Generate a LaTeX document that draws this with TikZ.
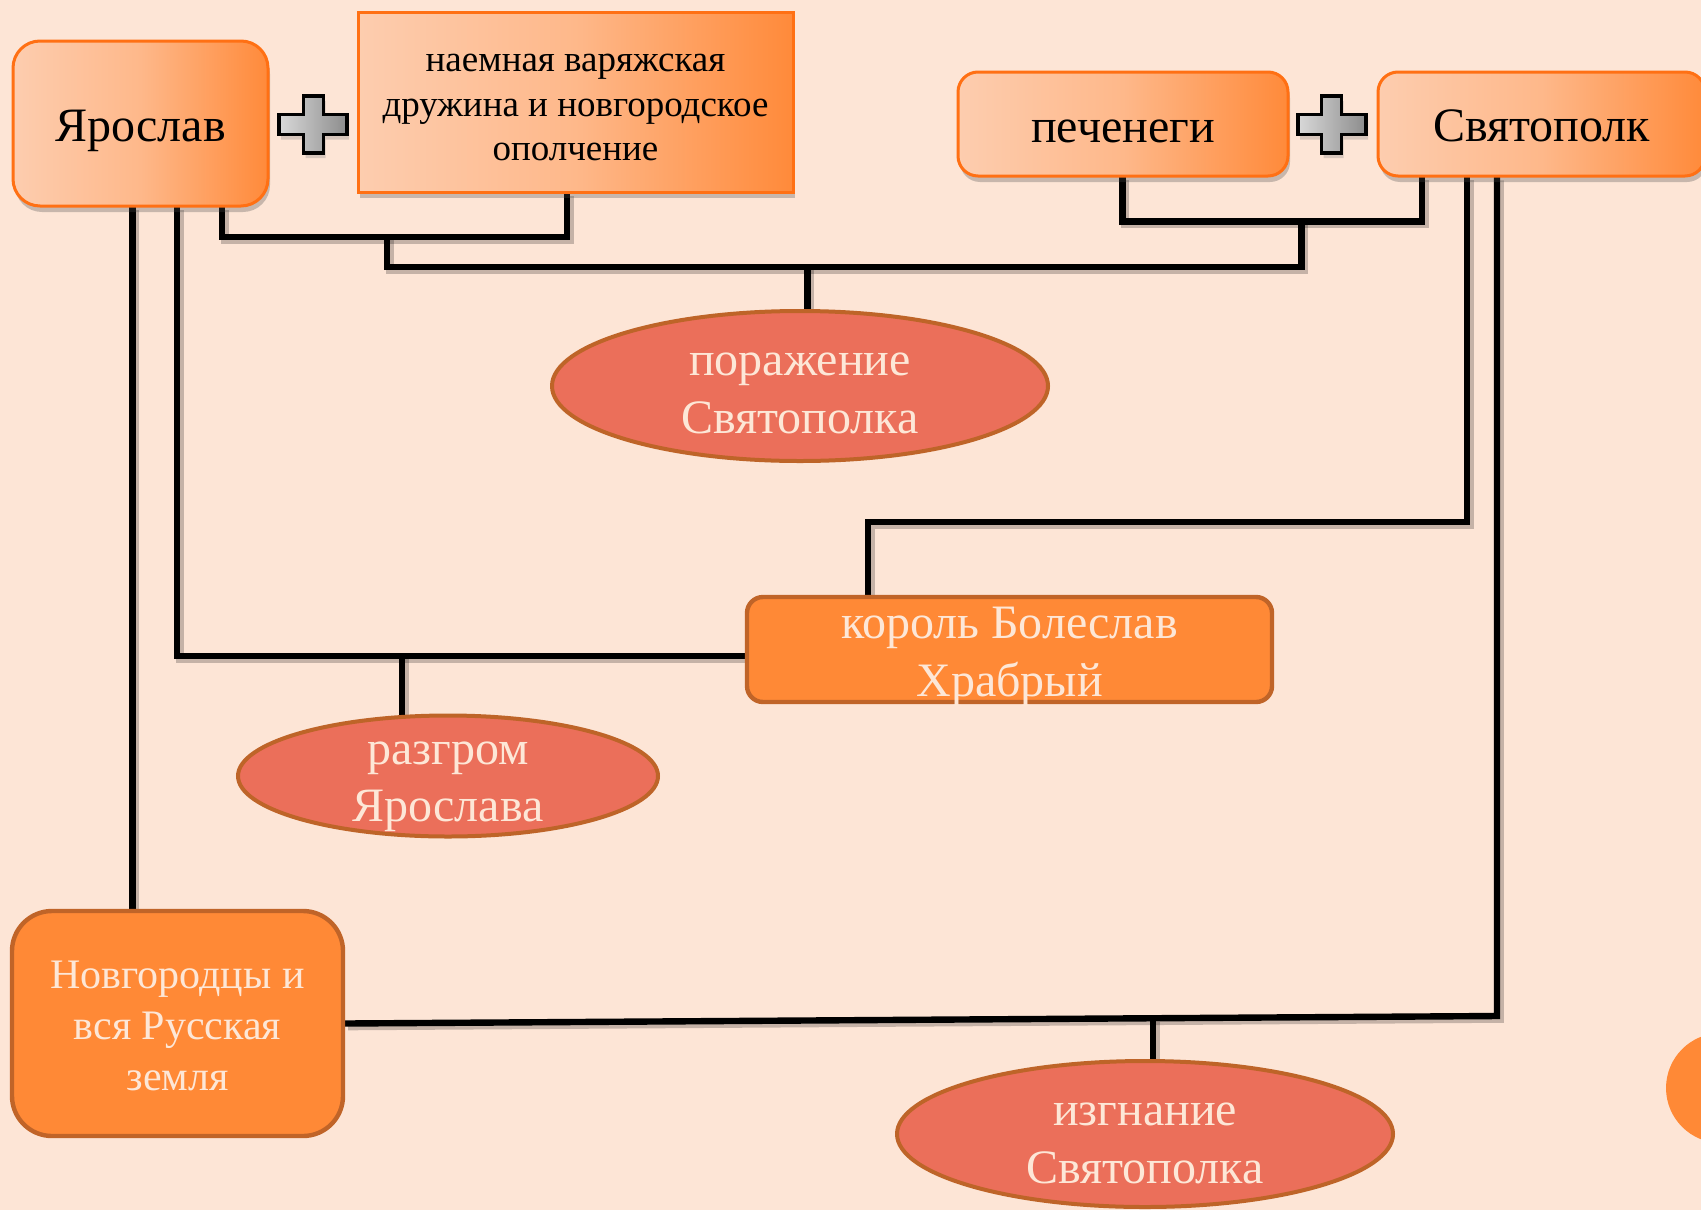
\documentclass[tikz,border=0pt]{standalone}
\usepackage{fontspec}
\setmainfont{Liberation Serif}
\usetikzlibrary{shapes.geometric,shadows}
\definecolor{bg}{RGB}{253,229,214}
\definecolor{gl}{RGB}{253,205,175}
\definecolor{gm}{RGB}{254,184,138}
\definecolor{gr}{RGB}{255,138,58}
\definecolor{gborder}{RGB}{255,112,20}
\definecolor{solidor}{RGB}{255,137,54}
\definecolor{sborder}{RGB}{192,100,40}
\definecolor{ellfill}{RGB}{235,111,90}
\definecolor{eborder}{RGB}{190,100,40}
\definecolor{ltext}{RGB}{253,231,215}
\pgfdeclarelayer{back}
\pgfdeclarelayer{wires}
\pgfsetlayers{back,wires,main}
\begin{document}
\begin{tikzpicture}[x=0.5pt,y=-0.5pt,
  gbox/.style={draw=gborder, line width=1.5pt, left color=gl, right color=gr, middle color=gm, inner sep=0pt,
    drop shadow={shadow xshift=1pt, shadow yshift=-3pt, opacity=0.3, fill=black!70}},
  sbox/.style={draw=sborder, line width=2.2pt, fill=solidor, inner sep=0pt},
  ell/.style={ellipse, draw=eborder, line width=2pt, fill=ellfill, inner sep=0pt},
  dtxt/.style={text=black, align=center, inner sep=0pt},
  ltxt/.style={text=ltext, align=center, inner sep=0pt},
  big/.style={font=\fontsize{24pt}{28.7pt}\selectfont},
  wire/.style={line width=3.2pt, line join=miter, line cap=rect, draw=black,
    preaction={draw=black, opacity=0.22, line width=4pt, transform canvas={xshift=1.4pt, yshift=-1.4pt}}},
  plusst/.style={draw=black, line width=1.6pt, line join=miter, left color=black!15, right color=black!45,
    drop shadow={shadow xshift=1pt, shadow yshift=-2.5pt, opacity=0.3}}
]
\useasboundingbox (0,0) rectangle (1701,1210);
\begin{pgfonlayer}{back}
\fill[bg] (0,0) rectangle (1701,1210);
\end{pgfonlayer}

% top boxes
\node[gbox, rounded corners=13.5pt, minimum width=127.5pt, minimum height=82.5pt] (yar) at (140.5,123.5) {};
\node[dtxt, big] (yart) at (140.5,131) {Ярослав};
\node[gbox, minimum width=217.5pt, minimum height=90pt] (nae) at (575.5,102) {};
\node[dtxt, font=\fontsize{18.5pt}{22.3pt}\selectfont] (naet) at (575.5,107.5) {наемная варяжская\\дружина и новгородское\\ополчение};
\node[gbox, rounded corners=10pt, minimum width=165pt, minimum height=52pt] (pech) at (1123,124) {};
\node[dtxt, big] (pecht) at (1123,131.5) {печенеги};
\node[gbox, rounded corners=10pt, minimum width=163.5pt, minimum height=52pt] (svy) at (1541.5,124) {};
\node[dtxt, big] (svyt) at (1541.5,126) {Святополк};

% plus signs
\path[plusst] (303.5,96) -- (323.5,96) -- (323.5,114.5) -- (347,114.5) -- (347,134.5) -- (323.5,134.5) -- (323.5,153) -- (303.5,153) -- (303.5,134.5) -- (279,134.5) -- (279,114.5) -- (303.5,114.5) -- cycle;
\path[plusst] (1321.5,96) -- (1341.5,96) -- (1341.5,114.5) -- (1366,114.5) -- (1366,134.5) -- (1341.5,134.5) -- (1341.5,153) -- (1321.5,153) -- (1321.5,134.5) -- (1298,134.5) -- (1298,114.5) -- (1321.5,114.5) -- cycle;

% ellipses and solid boxes
\node[ell, minimum width=248pt, minimum height=75pt] (por) at (800,386) {};
\node[ltxt, big] (port) at (800,393.5) {поражение\\Святополка};
\node[sbox, rounded corners=8pt, minimum width=262.5pt, minimum height=52.5pt] (kor) at (1009.5,649.5) {};
\node[ltxt, big] (kort) at (1009.5,657) {король Болеслав\\Храбрый};
\node[ell, minimum width=210pt, minimum height=60.5pt] (raz) at (448,776) {};
\node[ltxt, big] (razt) at (448,786.5) {разгром\\Ярослава};
\node[sbox, rounded corners=20pt, minimum width=165.5pt, minimum height=112.5pt] (nov) at (177.5,1023.5) {};
\node[ltxt, font=\fontsize{21pt}{25.5pt}\selectfont] (novt) at (177.5,1025.5) {Новгородцы и\\вся Русская\\земля};
\node[ell, minimum width=248pt, minimum height=73pt] (izg) at (1145,1134) {};
\node[ltxt, big] (izgt) at (1145,1143.5) {изгнание\\Святополка};

% partial circle at right edge
\fill[solidor] (1721,1088) circle (55);

% junction coordinates
\coordinate (a1) at (222,237);
\coordinate (a2) at (567,237);
\coordinate (a3) at (387,237);
\coordinate (a4) at (387,267);
\coordinate (a5) at (1301.5,267);
\coordinate (a6) at (1301.5,221.5);
\coordinate (a7) at (807.5,267);
\coordinate (b1) at (1122.6,221.5);
\coordinate (b2) at (1422,221.5);
\coordinate (c1) at (177,656);
\coordinate (c2) at (402,656);
\coordinate (d1) at (1467,522);
\coordinate (d2) at (868,522);
\coordinate (e1) at (132.5,500);
\coordinate (f1) at (1497,1016);
\coordinate (g1) at (1153,1019);

\begin{pgfonlayer}{wires}
\draw[wire] (yar.south -| a1) -- (a1) -- (a2) -- (nae.south -| a2);
\draw[wire] (a3) -- (a4) -- (a5) -- (a6);
\draw[wire] (pech.south -| b1) -- (b1) -- (b2) -- (svy.south -| b2);
\draw[wire] (a7) -- (por.north -| a7);
\draw[wire] (yar.south -| c1) -- (c1) -- (kor.west |- c1);
\draw[wire] (c2) -- (raz.north -| c2);
\draw[wire] (svy.south -| d1) -- (d1) -- (d2) -- (kor.north -| d2);
\draw[wire] (yar.south -| e1) -- (nov.north -| e1);
\draw[wire] (svy.south -| f1) -- (f1) -- (nov.east);
\draw[wire] (g1) -- (izg.north -| g1);
\end{pgfonlayer}
\end{tikzpicture}
\end{document}
